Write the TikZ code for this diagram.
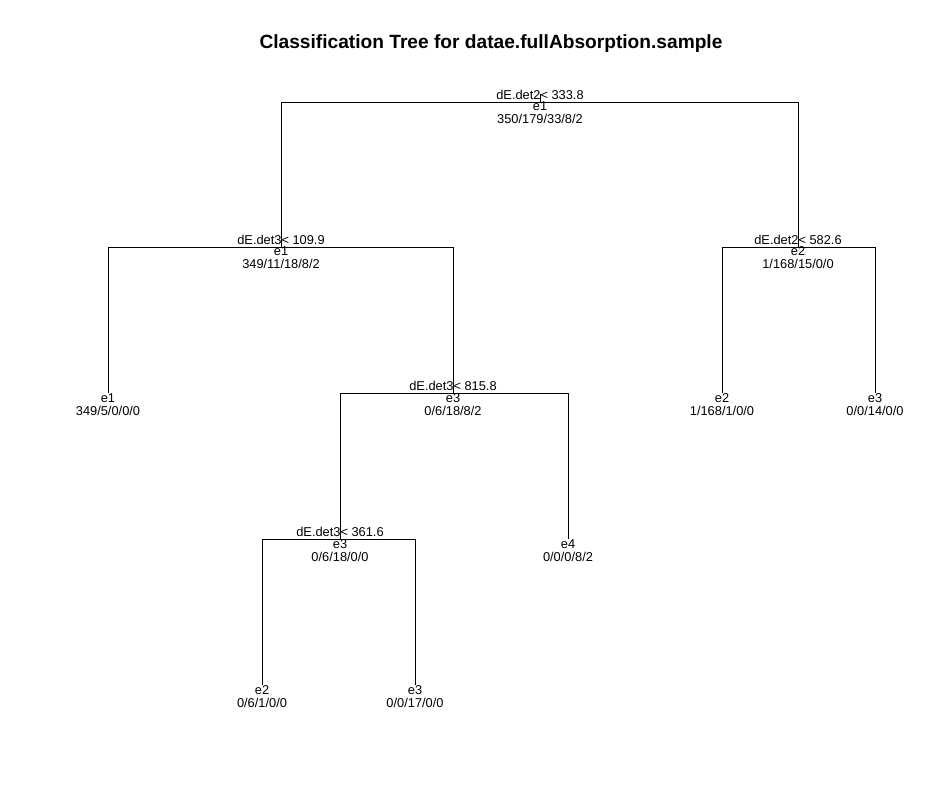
\documentclass[tikz,border=0pt]{standalone}
\usepackage{fontspec}
\setmainfont{Liberation Sans}

\begin{document}
\begin{tikzpicture}[x=0.02cm,y=-0.02cm,line width=0.45pt,
		txt/.style={font=\fontsize{7.3}{9}\selectfont,inner sep=0pt,anchor=base},
		ttl/.style={font=\fontsize{10.9}{13}\selectfont\bfseries,inner sep=0pt,anchor=base}]
		\useasboundingbox (0,0) rectangle (946,807);
		\node[ttl]	(title)	at (491,49)	{Classification Tree for datae.fullAbsorption.sample};

		% split points and leaves
		\coordinate	(n0)	at (540,94);
		\coordinate	(n1)	at (540,102);
		\coordinate	(n2)	at (281,247);
		\coordinate	(n3)	at (798,247);
		\coordinate	(n4)	at (108,393);
		\coordinate	(n5)	at (453,393);
		\coordinate	(n6)	at (722,393);
		\coordinate	(n7)	at (875,393);
		\coordinate	(n10)	at (340,539);
		\coordinate	(n11)	at (568,539);
		\coordinate	(n20)	at (262,685);
		\coordinate	(n21)	at (415,685);

		\draw (n0) -- (n1);
		\draw (n1) -| (n2);
		\draw (n1) -| (n3);
		\draw (n2) -| (n4);
		\draw (n2) -| (n5);
		\draw (n3) -| (n6);
		\draw (n3) -| (n7);
		\draw (n5) -| (n10);
		\draw (n5) -| (n11);
		\draw (n10) -| (n20);
		\draw (n10) -| (n21);

		% split labels
		\node[txt]	(s1)	at (540,99.5)	{dE.det2< 333.8};
		\node[txt]	(s2)	at (281,244.5)	{dE.det3< 109.9};
		\node[txt]	(s3)	at (798,244.5)	{dE.det2< 582.6};
		\node[txt]	(s5)	at (453,390.5)	{dE.det3< 815.8};
		\node[txt]	(s10)	at (340,536.5)	{dE.det3< 361.6};

		% classes and counts
		\node[txt]	(c1)	at (540,111)	{e1};
		\node[txt]	(k1)	at (540,124)	{350/179/33/8/2};
		\node[txt]	(c2)	at (281,256)	{e1};
		\node[txt]	(k2)	at (281,269)	{349/11/18/8/2};
		\node[txt]	(c3)	at (798,256)	{e2};
		\node[txt]	(k3)	at (798,269)	{1/168/15/0/0};
		\node[txt]	(c4)	at (108,402)	{e1};
		\node[txt]	(k4)	at (108,415)	{349/5/0/0/0};
		\node[txt]	(c5)	at (453,402)	{e3};
		\node[txt]	(k5)	at (453,415)	{0/6/18/8/2};
		\node[txt]	(c6)	at (722,402)	{e2};
		\node[txt]	(k6)	at (722,415)	{1/168/1/0/0};
		\node[txt]	(c7)	at (875,402)	{e3};
		\node[txt]	(k7)	at (875,415)	{0/0/14/0/0};
		\node[txt]	(c10)	at (340,548)	{e3};
		\node[txt]	(k10)	at (340,561)	{0/6/18/0/0};
		\node[txt]	(c11)	at (568,548)	{e4};
		\node[txt]	(k11)	at (568,561)	{0/0/0/8/2};
		\node[txt]	(c20)	at (262,694)	{e2};
		\node[txt]	(k20)	at (262,707)	{0/6/1/0/0};
		\node[txt]	(c21)	at (415,694)	{e3};
		\node[txt]	(k21)	at (415,707)	{0/0/17/0/0};
	\end{tikzpicture}
\end{document}
